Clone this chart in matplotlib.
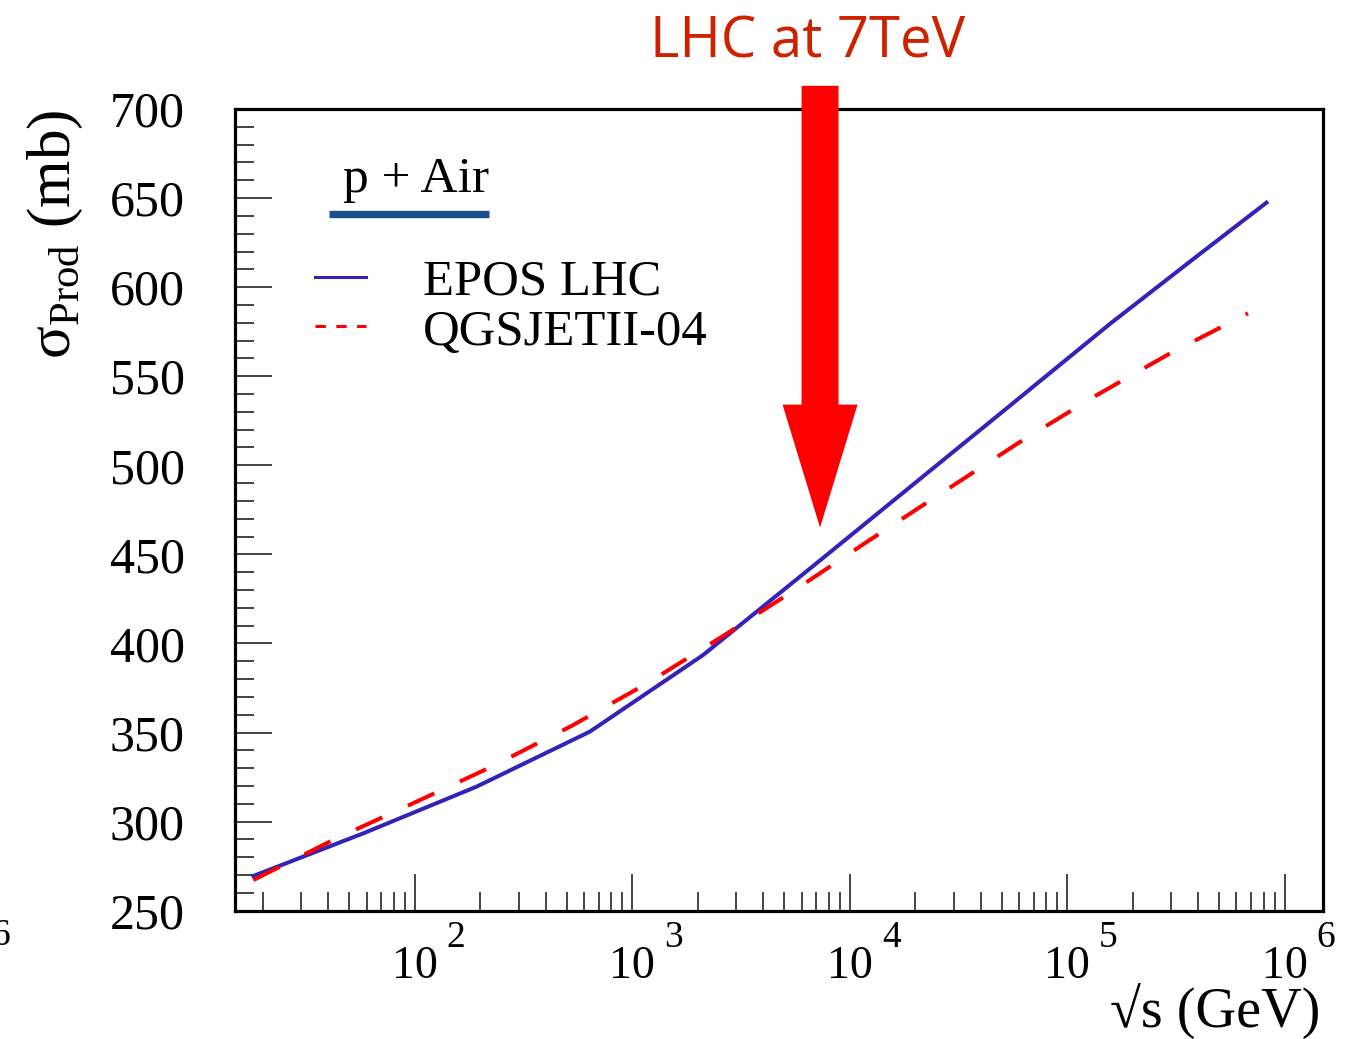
import matplotlib
matplotlib.use("Agg")
import matplotlib.pyplot as plt
import matplotlib.transforms as mtransforms
from matplotlib.lines import Line2D
from matplotlib.ticker import LogLocator, MultipleLocator, NullFormatter

# p + Air production cross-section vs sqrt(s)
energy_epos = [18.1, 57.9, 192, 638, 2116, 7280, 16980, 48940, 158000, 398000, 824000]
sigma_epos = [269.5, 293.4, 319.6, 350.5, 393.5, 446.5, 483.1, 528.8, 579.6, 617.7, 647.4]

energy_qgs = [18.1, 42.1, 98.2, 225.3, 525.4, 1170, 2615, 5689, 12360, 27340,
              59390, 131400, 293800, 678200]
sigma_qgs = [267.2, 289.7, 310.3, 330.8, 353.7, 377.6, 404.2, 430.6, 458.1, 485.6,
             512.4, 538.2, 562.5, 585.3]

decades = [1e2, 1e3, 1e4, 1e5, 1e6]
decade_exponents = ["2", "3", "4", "5", "6"]
series_labels = ["EPOS LHC", "QGSJETII-04"]
arrow_energy = 7300.0
arrow_tip, arrow_top = 465, 713

BLUE = "#3323b8"
RED = "#ff0000"

plt.rcParams["font.family"] = ["Liberation Serif", "DejaVu Serif"]
plt.rcParams["mathtext.fontset"] = "custom"
plt.rcParams["mathtext.rm"] = "Liberation Serif"

W, H = 1350, 1039
fig = plt.figure(figsize=(W / 100, H / 100), dpi=100)
ax = fig.add_axes([235 / W, 1 - 910.7 / H, 1088 / W, 801.7 / H])

ax.plot(energy_epos, sigma_epos, color=BLUE, lw=2.9)
ax.plot(energy_qgs, sigma_qgs, color=RED, lw=2.9, dashes=(7.2, 7.0),
        dash_capstyle="butt")

ax.set_xscale("log")
ax.set_xlim(14.9, 1.5e6)
ax.set_ylim(250, 700)

ax.xaxis.set_major_locator(LogLocator(base=10, numticks=20))
ax.xaxis.set_minor_locator(LogLocator(base=10, subs=range(2, 10), numticks=50))
ax.xaxis.set_major_formatter(NullFormatter())
ax.xaxis.set_minor_formatter(NullFormatter())
ax.yaxis.set_major_locator(MultipleLocator(50))
ax.yaxis.set_minor_locator(MultipleLocator(10))

ax.tick_params(which="both", direction="in", top=False, right=False,
               color="#444444", width=1.4)
ax.tick_params(which="major", length=26.6)
ax.tick_params(which="minor", length=13.7)
ax.tick_params(axis="y", labelsize=36, pad=36)
for s in ax.spines.values():
    s.set_linewidth(2.3)

# ROOT-style "10^n" labels
xt = ax.get_xaxis_transform()
exp_trans = mtransforms.offset_copy(xt, fig=fig, x=32, y=0, units="dots")
for d, e in zip(decades, decade_exponents):
    ax.text(d, -0.0839, "10", transform=xt, ha="center", va="baseline", fontsize=33)
    ax.text(d, -0.0453, e, transform=exp_trans, ha="left", va="baseline", fontsize=27)

fig.text(1320 / W, 1 - 1028 / H, "\u221as (GeV)", ha="right", va="baseline", fontsize=40.5)
fig.text(55 / W, 1 - 110 / H, "$\\mathrm{\u03c3}_{\\mathrm{Prod}}$ (mb)", rotation=90,
         ha="center", va="top", fontsize=44)
fig.text(10 / W, 1 - 945 / H, "6", ha="right", va="baseline", fontsize=27)

# legend, drawn by hand to match the ROOT layout
ax.text(0.0996, 0.8969, "p + Air", transform=ax.transAxes, fontsize=37, va="baseline")
ax.add_line(Line2D([0.0868, 0.2330], [0.8687, 0.8687], transform=ax.transAxes,
                   color="#1a4f8c", lw=5.3, solid_capstyle="butt"))
ax.add_line(Line2D([0.0735, 0.1204], [0.7905, 0.7905], transform=ax.transAxes,
                   color=BLUE, lw=2.2))
ax.add_line(Line2D([0.0735, 0.1204], [0.7294, 0.7294], transform=ax.transAxes,
                   color=RED, lw=2.2, dashes=(3.4, 3.4)))
ax.text(0.1728, 0.7681, series_labels[0], transform=ax.transAxes, fontsize=36.5, va="baseline")
ax.text(0.1728, 0.7058, series_labels[1], transform=ax.transAxes, fontsize=36.5, va="baseline")

# LHC arrow
ax.annotate("", xy=(arrow_energy, arrow_tip), xytext=(arrow_energy, arrow_top),
            arrowprops=dict(arrowstyle="simple,head_length=88.6,head_width=54,tail_width=26.6",
                            mutation_scale=1, color=RED, lw=0, shrinkA=0, shrinkB=0),
            annotation_clip=False)
fig.text(808 / W, 1 - 57 / H, "LHC at 7TeV", color="#cc2200", fontsize=40.5,
         family="Open Sans", ha="center", va="baseline")

fig.savefig("out.png", dpi=100)
